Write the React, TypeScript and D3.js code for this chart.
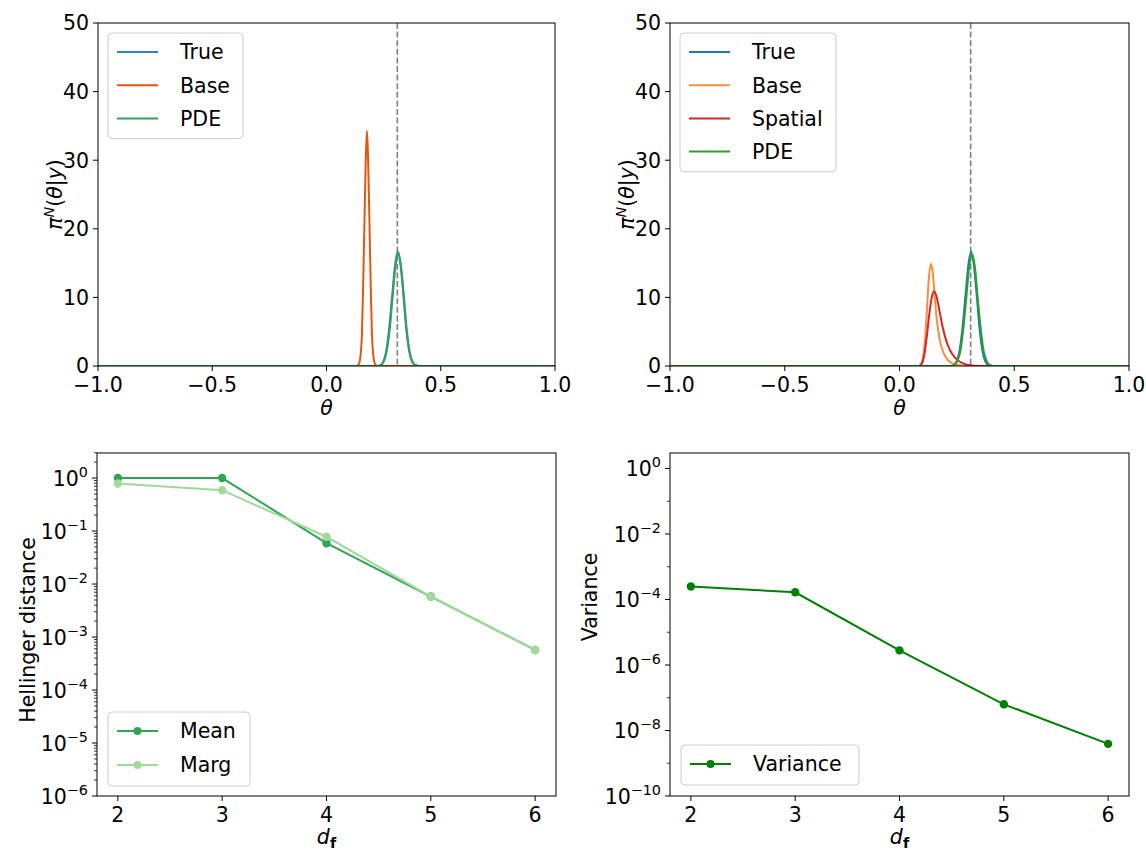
import React from "react";
import * as d3 from "d3";

// ---------- data ----------
const thetaTicks = [-1, -0.5, 0, 0.5, 1];
const thetaTickLabels = ["\u22121.0", "\u22120.5", "0.0", "0.5", "1.0"];
const densTicks = [0, 10, 20, 30, 40, 50];
const trueTheta = 0.31;

// top-left curves: [theta, density]
const tlTrue: [number, number][] = [
  [-1, 0], [0.226, 0], [0.238, 0.18], [0.250, 0.74], [0.262, 2.3], [0.274, 5.4], [0.287, 10.1],
  [0.300, 14.7], [0.312, 16.7], [0.324, 14.7], [0.337, 10.1], [0.349, 5.4], [0.361, 2.3],
  [0.373, 0.74], [0.386, 0.18], [0.398, 0.03], [0.41, 0], [1, 0],
];
const tlBase: [number, number][] = [
  [-1, 0], [0.13, 0], [0.137, 0.1], [0.143, 0.4], [0.149, 1.5], [0.155, 4.6], [0.160, 11.1],
  [0.166, 20.8], [0.172, 30.3], [0.177, 34.3], [0.182, 30.3], [0.188, 20.8], [0.194, 11.1],
  [0.199, 4.6], [0.205, 1.5], [0.211, 0.4], [0.217, 0.1], [0.225, 0], [1, 0],
];
const tlPde: [number, number][] = [
  [-1, 0], [0.228, 0], [0.240, 0.18], [0.252, 0.73], [0.264, 2.25], [0.277, 5.4], [0.289, 10.0],
  [0.302, 14.6], [0.314, 16.5], [0.326, 14.6], [0.339, 10.0], [0.351, 5.4], [0.363, 2.25],
  [0.375, 0.73], [0.388, 0.18], [0.400, 0.03], [0.412, 0], [1, 0],
];

// top-right curves
const trTrue: [number, number][] = [
  [-1, 0], [0.226, 0], [0.238, 0.18], [0.250, 0.74], [0.262, 2.3], [0.274, 5.4], [0.287, 10.1],
  [0.300, 14.7], [0.312, 16.7], [0.324, 14.7], [0.337, 10.1], [0.349, 5.4], [0.361, 2.3],
  [0.373, 0.74], [0.386, 0.18], [0.398, 0.03], [0.41, 0], [1, 0],
];
const trBase: [number, number][] = [
  [-1, 0], [0.08, 0], [0.092, 0.2], [0.102, 1.2], [0.112, 4.2], [0.120, 8.5], [0.128, 12.8],
  [0.137, 14.9], [0.145, 13.6], [0.152, 10.8], [0.160, 7.6], [0.170, 4.9], [0.180, 3.1],
  [0.195, 1.7], [0.210, 0.9], [0.230, 0.4], [0.260, 0.1], [0.30, 0], [1, 0],
];
const trSpatial: [number, number][] = [
  [-1, 0], [0.085, 0], [0.098, 0.4], [0.110, 2.0], [0.120, 4.6], [0.130, 7.6], [0.140, 9.9],
  [0.150, 10.9], [0.160, 10.3], [0.170, 8.8], [0.180, 7.0], [0.190, 5.4], [0.200, 4.1],
  [0.210, 3.1], [0.220, 2.3], [0.240, 1.3], [0.260, 0.7], [0.280, 0.35], [0.300, 0.15],
  [0.330, 0.04], [0.36, 0], [1, 0],
];
const trPde: [number, number][] = [
  [-1, 0], [0.226, 0], [0.241, 0.2], [0.253, 0.8], [0.266, 2.3], [0.278, 5.4], [0.291, 9.9],
  [0.303, 14.3], [0.316, 16.3], [0.329, 14.3], [0.341, 9.9], [0.354, 5.4], [0.366, 2.3],
  [0.379, 0.8], [0.391, 0.2], [0.404, 0.04], [0.416, 0], [1, 0],
];

// bottom panels
const dfValues = [2, 3, 4, 5, 6];
const hellMean = [1.0, 1.0, 0.059, 0.0058, 5.7e-4];
const hellMarg = [0.79, 0.59, 0.078, 0.0058, 5.7e-4];
const varianceVals = [2.5e-4, 1.66e-4, 2.8e-6, 6.3e-8, 3.9e-9];
const hellExps = [0, -1, -2, -3, -4, -5, -6];
const varExps = [0, -2, -4, -6, -8, -10];

// ---------- styles ----------
const FONT = "DejaVu Sans";
const FS = 20.5;
const TICK = 5;

type Box = { x0: number; x1: number; y0: number; y1: number };
const TL: Box = { x0: 98, x1: 555, y0: 23, y1: 366 };
const TR: Box = { x0: 670, x1: 1129, y0: 23, y1: 366 };
const BL: Box = { x0: 97, x1: 556, y0: 453, y1: 796 };
const BR: Box = { x0: 670, x1: 1129, y0: 453, y1: 796 };

const sup = (e: number) => (e < 0 ? "\u2212" + Math.abs(e) : String(e));

function Frame({ b }: { b: Box }) {
  return (
    <rect x={b.x0} y={b.y0} width={b.x1 - b.x0} height={b.y1 - b.y0} fill="none" stroke="#000" strokeWidth={1} />
  );
}

function XTicks({ b, scale, ticks, labels }: { b: Box; scale: (v: number) => number; ticks: number[]; labels: string[] }) {
  return (
    <g>
      {ticks.map((t, i) => {
        const x = scale(t);
        return (
          <g key={i}>
            <line x1={x} x2={x} y1={b.y1} y2={b.y1 + TICK} stroke="#000" strokeWidth={1} />
            <text x={x} y={b.y1 + 26} textAnchor="middle" fontSize={FS} fontFamily={FONT}>{labels[i]}</text>
          </g>
        );
      })}
    </g>
  );
}

function YTicksLin({ b, scale, ticks }: { b: Box; scale: (v: number) => number; ticks: number[] }) {
  return (
    <g>
      {ticks.map((t, i) => {
        const y = scale(t);
        return (
          <g key={i}>
            <line x1={b.x0 - TICK} x2={b.x0} y1={y} y2={y} stroke="#000" strokeWidth={1} />
            <text x={b.x0 - 9} y={y + FS * 0.36} textAnchor="end" fontSize={FS} fontFamily={FONT}>{t}</text>
          </g>
        );
      })}
    </g>
  );
}

function YTicksLog({ b, scale, exps, minor }: { b: Box; scale: (v: number) => number; exps: number[]; minor: number[] }) {
  return (
    <g>
      {minor.map((m, i) => {
        const y = scale(m);
        if (y < b.y0 - 0.5 || y > b.y1 + 0.5) return null;
        return <line key={"m" + i} x1={b.x0 - 3} x2={b.x0} y1={y} y2={y} stroke="#000" strokeWidth={0.8} />;
      })}
      {exps.map((e, i) => {
        const y = scale(Math.pow(10, e));
        return (
          <g key={i}>
            <line x1={b.x0 - TICK} x2={b.x0} y1={y} y2={y} stroke="#000" strokeWidth={1} />
            <text x={b.x0 - 9} y={y + FS * 0.38} textAnchor="end" fontSize={FS} fontFamily={FONT}>
              <tspan>10</tspan>
              <tspan dy={-FS * 0.45} fontSize={FS * 0.7}>{sup(e)}</tspan>
            </text>
          </g>
        );
      })}
    </g>
  );
}

type LegendItem = { label: string; color: string; marker?: boolean };
function Legend({ x, y, w, items, rowH }: { x: number; y: number; w: number; items: LegendItem[]; rowH: number }) {
  const h = items.length * rowH + 6;
  return (
    <g>
      <rect x={x} y={y} width={w} height={h} rx={4} fill="#fff" fillOpacity={0.8} stroke="#cccccc" strokeWidth={1} />
      {items.map((it, i) => {
        const cy = y + 19 + i * rowH;
        return (
          <g key={i}>
            <line x1={x + 9} x2={x + 50} y1={cy} y2={cy} stroke={it.color} strokeWidth={2} />
            {it.marker && <circle cx={x + 29.5} cy={cy} r={4} fill={it.color} />}
            <text x={x + 72} y={cy + FS * 0.36} fontSize={FS} fontFamily={FONT}>{it.label}</text>
          </g>
        );
      })}
    </g>
  );
}

function YLabelPi({ x, y }: { x: number; y: number }) {
  return (
    <text transform={`translate(${x},${y}) rotate(-90)`} textAnchor="middle" fontSize={FS} fontFamily={FONT} dy={FS * 0.36}>
      <tspan fontStyle="italic">π</tspan>
      <tspan fontStyle="italic" fontSize={FS * 0.7} dy={-FS * 0.42}>N</tspan>
      <tspan dy={FS * 0.42}>(</tspan>
      <tspan fontStyle="italic">θ</tspan>
      <tspan>|</tspan>
      <tspan fontStyle="italic">y</tspan>
      <tspan>)</tspan>
    </text>
  );
}

function XLabelDf({ x, y }: { x: number; y: number }) {
  return (
    <text x={x} y={y} textAnchor="middle" fontSize={FS} fontFamily={FONT}>
      <tspan fontStyle="italic">d</tspan>
      <tspan fontWeight="bold" fontSize={FS * 0.7} dy={FS * 0.2}>f</tspan>
    </text>
  );
}

function DensityPanel({ b, curves, legend, legendW }: { b: Box; curves: { data: [number, number][]; color: string }[]; legend: LegendItem[]; legendW: number }) {
  const x = d3.scaleLinear().domain([-1, 1]).range([b.x0, b.x1]);
  const y = d3.scaleLinear().domain([0, 50]).range([b.y1, b.y0]);
  const line = d3.line<[number, number]>().x((d) => x(d[0])).y((d) => y(d[1])).curve(d3.curveMonotoneX);
  const clipId = `clip-${b.x0}-${b.y0}`;
  return (
    <g>
      <defs>
        <clipPath id={clipId}><rect x={b.x0} y={b.y0} width={b.x1 - b.x0} height={b.y1 - b.y0} /></clipPath>
      </defs>
      <g clipPath={`url(#${clipId})`}>
        <line x1={x(trueTheta)} x2={x(trueTheta)} y1={b.y0} y2={b.y1} stroke="#808080" strokeWidth={1.6} strokeDasharray="6,2.6" />
        {curves.map((c, i) => (
          <path key={i} d={line(c.data) || ""} fill="none" stroke={c.color} strokeWidth={2} />
        ))}
      </g>
      <Frame b={b} />
      <XTicks b={b} scale={x} ticks={thetaTicks} labels={thetaTickLabels} />
      <YTicksLin b={b} scale={y} ticks={densTicks} />
      <text x={(b.x0 + b.x1) / 2} y={b.y1 + 49} textAnchor="middle" fontSize={FS} fontFamily={FONT} fontStyle="italic">θ</text>
      <YLabelPi x={b.x0 - 43} y={(b.y0 + b.y1) / 2} />
      <Legend x={b.x0 + 10} y={b.y0 + 10} w={legendW} items={legend} rowH={33.2} />
    </g>
  );
}

function LogPanel({ b, series, domain, exps, minorExps, legend, legendW, legendY, ylabel, ylabelX, ylabelY }: {
  b: Box; series: { vals: number[]; color: string }[]; domain: [number, number]; exps: number[]; minorExps: number[];
  legend: LegendItem[]; legendW: number; legendY: number; ylabel: string; ylabelX: number; ylabelY: number;
}) {
  const x = d3.scaleLinear().domain([1.8, 6.2]).range([b.x0, b.x1]);
  const y = d3.scaleLog().domain(domain).range([b.y1, b.y0]);
  const line = d3.line<number>().x((_, i) => x(dfValues[i])).y((d) => y(d));
  return (
    <g>
      {series.map((s, i) => (
        <g key={i}>
          <path d={line(s.vals) || ""} fill="none" stroke={s.color} strokeWidth={2} />
          {s.vals.map((v, j) => (
            <circle key={j} cx={x(dfValues[j])} cy={y(v)} r={4.2} fill={s.color} />
          ))}
        </g>
      ))}
      <Frame b={b} />
      <XTicks b={b} scale={x} ticks={dfValues} labels={dfValues.map(String)} />
      <YTicksLog b={b} scale={y} exps={exps} minor={minorExps} />
      <XLabelDf x={(b.x0 + b.x1) / 2} y={b.y1 + 48} />
      <text transform={`translate(${ylabelX},${ylabelY}) rotate(-90)`} textAnchor="middle" dy={FS * 0.36} fontSize={FS} fontFamily={FONT}>{ylabel}</text>
      <Legend x={b.x0 + 11} y={legendY} w={legendW} items={legend} rowH={34} />
    </g>
  );
}

export default function App() {
  const hellMinor: number[] = [];
  for (let e = -7; e <= 0; e++) for (let k = 2; k <= 9; k++) hellMinor.push(k * Math.pow(10, e));
  const varMinor = [-1, -3, -5, -7, -9].map((e) => Math.pow(10, e));
  return (
    <svg width={1146} height={851} style={{ position: "absolute", left: 0, top: 0, background: "#fff" }}>
      <rect x={0} y={0} width={1146} height={851} fill="#fff" />
      <DensityPanel
        b={TL}
        curves={[
          { data: tlTrue, color: "#3182bd" },
          { data: tlBase, color: "#e6550d" },
          { data: tlPde, color: "#31a354" },
        ]}
        legend={[
          { label: "True", color: "#3182bd" },
          { label: "Base", color: "#e6550d" },
          { label: "PDE", color: "#31a354" },
        ]}
        legendW={135}
      />
      <DensityPanel
        b={TR}
        curves={[
          { data: trTrue, color: "#1f77b4" },
          { data: trBase, color: "#fd8d3c" },
          { data: trSpatial, color: "#d62728" },
          { data: trPde, color: "#2ca02c" },
        ]}
        legend={[
          { label: "True", color: "#1f77b4" },
          { label: "Base", color: "#fd8d3c" },
          { label: "Spatial", color: "#d62728" },
          { label: "PDE", color: "#2ca02c" },
        ]}
        legendW={156}
      />
      <LogPanel
        b={BL}
        series={[
          { vals: hellMean, color: "#31a354" },
          { vals: hellMarg, color: "#a1d99b" },
        ]}
        domain={[1e-6, 2.97]}
        exps={hellExps}
        minorExps={hellMinor}
        legend={[
          { label: "Mean", color: "#31a354", marker: true },
          { label: "Marg", color: "#a1d99b", marker: true },
        ]}
        legendW={142}
        legendY={712}
        ylabel="Hellinger distance"
        ylabelX={28}
        ylabelY={630}
      />
      <LogPanel
        b={BR}
        series={[{ vals: varianceVals, color: "#008000" }]}
        domain={[1e-10, 2.97]}
        exps={varExps}
        minorExps={varMinor}
        legend={[{ label: "Variance", color: "#008000", marker: true }]}
        legendW={178}
        legendY={745}
        ylabel="Variance"
        ylabelX={590}
        ylabelY={597}
      />
    </svg>
  );
}
